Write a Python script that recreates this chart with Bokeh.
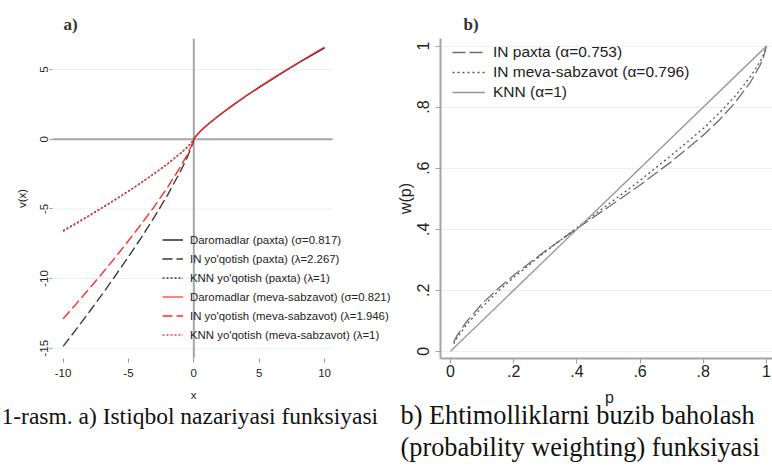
from bokeh.plotting import figure
from bokeh.models import Span, FixedTicker, Range1d, Label
from bokeh.layouts import column, row
from bokeh.embed import file_html
from bokeh.resources import INLINE

# ---------------- panel a) data (read from the picture) ----------------
x_gain = [0, 0.1, 0.5, 1, 2, 3, 4, 5, 6, 7, 8, 9, 10]
gain_paxta = [0, 0.15, 0.57, 1.0, 1.76, 2.45, 3.10, 3.72, 4.32, 4.90, 5.47, 6.02, 6.56]
gain_meva = [0, 0.15, 0.57, 1.0, 1.77, 2.46, 3.12, 3.75, 4.35, 4.94, 5.51, 6.07, 6.62]

x_loss = [-10, -9, -8, -7, -6, -5, -4, -3, -2, -1, -0.5, -0.1, 0]
in_loss_paxta = [-14.87, -13.65, -12.40, -11.12, -9.80, -8.44, -7.04, -5.56, -3.99, -2.27, -1.29, -0.35, 0]
in_loss_meva = [-12.89, -11.82, -10.73, -9.62, -8.47, -7.29, -6.07, -4.80, -3.44, -1.95, -1.10, -0.29, 0]
knn_loss_paxta = [-6.56, -6.02, -5.47, -4.90, -4.32, -3.72, -3.10, -2.45, -1.76, -1.0, -0.57, -0.15, 0]
knn_loss_meva = [-6.62, -6.07, -5.51, -4.94, -4.35, -3.75, -3.12, -2.46, -1.77, -1.0, -0.57, -0.15, 0]

a_labels = [
    "Daromadlar (paxta) (σ=0.817)",
    "IN yo'qotish (paxta) (λ=2.267)",
    "KNN yo'qotish (paxta) (λ=1)",
    "Daromadlar (meva-sabzavot) (σ=0.821)",
    "IN yo'qotish (meva-sabzavot) (λ=1.946)",
    "KNN yo'qotish (meva-sabzavot) (λ=1)",
]
a_xticks = [-10, -5, 0, 5, 10]
a_yticks = [-15, -10, -5, 0, 5]
a_xlabel = "x"
a_ylabel = "v(x)"
a_region_x = (-10.81, 10.61)   # extent of the plot region (grid / zero line)

# ---------------- panel b) data (read from the picture) ----------------
p_vals = [0.01, 0.02, 0.05, 0.1, 0.15, 0.2, 0.3, 0.4, 0.5, 0.6, 0.7, 0.8, 0.85, 0.9, 0.95, 0.98, 0.99, 1.0]
w_in_paxta = [0.030, 0.050, 0.096, 0.156, 0.205, 0.249, 0.329, 0.402, 0.473, 0.545, 0.622, 0.708, 0.757, 0.814, 0.883, 0.938, 0.962, 1.0]
w_in_meva = [0.025, 0.043, 0.086, 0.145, 0.196, 0.242, 0.326, 0.405, 0.482, 0.560, 0.643, 0.730, 0.780, 0.835, 0.901, 0.950, 0.971, 1.0]
p_knn = [0, 1]
w_knn = [0, 1]

b_labels = ["IN paxta (α=0.753)", "IN meva-sabzavot (α=0.796)", "KNN (α=1)"]
b_ticks = [0, 0.2, 0.4, 0.6, 0.8, 1]
b_tick_labels = ["0", ".2", ".4", ".6", ".8", "1"]
b_xlabel = "p"
b_ylabel = "w(p)"

captions = [
    "1-rasm. a) Istiqbol nazariyasi funksiyasi",
    "b) Ehtimolliklarni buzib baholash",
    "(probability weighting) funksiyasi",
]

SANS = "Liberation Sans"
SERIF = "Liberation Serif"
TXT = "#222222"
GRID = "#e8f0f2"
H = 387  # height of the two chart panels; the strip below holds axis titles and captions

# ======================= figure a =======================
fa = figure(width=392, height=H, x_range=Range1d(-10.81, 15.20), y_range=Range1d(-15.74, 7.23),
            output_backend="svg", toolbar_location=None,
            min_border_left=52, min_border_right=0, min_border_top=34, min_border_bottom=H - 358)
fa.outline_line_color = None
fa.grid.visible = False

fa.title.text = "a)"
fa.title.text_font = SERIF
fa.title.text_font_size = "17px"
fa.title.text_font_style = "bold"
fa.title.text_color = "#333333"
fa.title.offset = 11
fa.title.standoff = 9

# horizontal grid lines and zero reference line, limited to the plot region
n = len(a_yticks)
fa.segment(x0=[a_region_x[0]] * n, y0=a_yticks, x1=[a_region_x[1]] * n, y1=a_yticks,
           line_color=GRID, line_width=1, level="underlay")
fa.segment(x0=[a_region_x[0]], y0=[0], x1=[a_region_x[1]], y1=[0],
           line_color="#a6a6a6", line_width=2, level="underlay")
fa.add_layout(Span(location=0, dimension="height", line_color="#a6a6a6", line_width=2, level="underlay"))

fa.line(x_gain, gain_paxta, line_color="#1a1a1a", line_width=1.4, legend_label=a_labels[0])
fa.line(x_loss, in_loss_paxta, line_color="#3a3a3a", line_width=1.4, line_dash="10 4", legend_label=a_labels[1])
fa.line(x_loss, knn_loss_paxta, line_color="#3a3a3a", line_width=1.4, line_dash="2 2", legend_label=a_labels[2])
fa.line(x_gain, gain_meva, line_color="#ff2a2a", line_width=1.2, legend_label=a_labels[3])
fa.line(x_loss, in_loss_meva, line_color="#ff2a2a", line_width=1.4, line_dash="10 4", legend_label=a_labels[4])
fa.line(x_loss, knn_loss_meva, line_color="#ff3a3a", line_width=1.3, line_dash="2 2", legend_label=a_labels[5])

lg = fa.legend[0]
lg.location = (110, 15)
lg.background_fill_alpha = 0
lg.border_line_alpha = 0
lg.padding = 0
lg.margin = 0
lg.spacing = 2
lg.glyph_height = 17
lg.label_height = 17
lg.glyph_width = 21
lg.label_standoff = 7
lg.label_text_font = SANS
lg.label_text_font_size = "11.4px"
lg.label_text_color = TXT

for ax, ticks in ((fa.xaxis[0], a_xticks), (fa.yaxis[0], a_yticks)):
    ax.ticker = FixedTicker(ticks=ticks)
    ax.major_label_overrides = {t: str(t) for t in ticks}
    ax.axis_line_color = None
    ax.major_tick_line_color = "#9a9a9a"
    ax.major_tick_in = 0
    ax.minor_tick_line_color = None
    ax.major_label_text_font = SANS
    ax.major_label_text_font_size = "11.5px"
    ax.major_label_text_color = TXT
    ax.axis_label_text_font = SANS
    ax.axis_label_text_font_size = "11.5px"
    ax.axis_label_text_font_style = "normal"
    ax.axis_label_text_color = TXT

fa.xaxis[0].major_tick_out = 4
fa.xaxis[0].major_label_standoff = 6
fa.yaxis[0].axis_label = a_ylabel
fa.yaxis[0].major_tick_out = 3
fa.yaxis[0].major_label_standoff = 1
fa.yaxis[0].axis_label_standoff = 10
fa.yaxis[0].major_label_orientation = "vertical"

# ======================= figure b =======================
fb = figure(width=380, height=H, x_range=Range1d(-0.0316, 1.019), y_range=Range1d(-0.0235, 1.0248),
            output_backend="svg", toolbar_location=None,
            min_border_left=48, min_border_right=0, min_border_top=38, min_border_bottom=H - 363)
fb.outline_line_color = None
fb.xgrid.visible = False
fb.ygrid.ticker = FixedTicker(ticks=b_ticks)
fb.ygrid.grid_line_color = GRID
fb.ygrid.grid_line_width = 1

fb.title.text = "b)"
fb.title.text_font = SERIF
fb.title.text_font_size = "17px"
fb.title.text_font_style = "bold"
fb.title.text_color = "#333333"
fb.title.offset = 23
fb.title.standoff = 10

fb.line(p_vals, w_in_paxta, line_color="#6e6e6e", line_width=1.3, line_dash="13 4", legend_label=b_labels[0])
fb.line(p_vals, w_in_meva, line_color="#555555", line_width=1.3, line_dash="2 3", legend_label=b_labels[1])
fb.line(p_knn, w_knn, line_color="#959595", line_width=1.3, legend_label=b_labels[2])

lb = fb.legend[0]
lb.location = (12, 256)
lb.background_fill_alpha = 0
lb.border_line_alpha = 0
lb.padding = 0
lb.margin = 0
lb.spacing = 0
lb.glyph_height = 20
lb.label_height = 20
lb.glyph_width = 33
lb.label_standoff = 8
lb.label_text_font = SANS
lb.label_text_font_size = "15.5px"
lb.label_text_color = TXT

for ax in (fb.xaxis[0], fb.yaxis[0]):
    ax.ticker = FixedTicker(ticks=b_ticks)
    ax.major_label_overrides = dict(zip(b_ticks, b_tick_labels))
    ax.axis_line_color = "#a3a3a3"
    ax.axis_line_width = 2
    ax.major_tick_line_color = "#a3a3a3"
    ax.major_tick_line_width = 1.2
    ax.major_tick_in = 0
    ax.major_tick_out = 5
    ax.minor_tick_line_color = None
    ax.major_label_text_font = SANS
    ax.major_label_text_font_size = "16px"
    ax.major_label_text_color = TXT
    ax.axis_label_text_font = SANS
    ax.axis_label_text_font_size = "16px"
    ax.axis_label_text_font_style = "normal"
    ax.axis_label_text_color = TXT

fb.xaxis[0].major_label_standoff = 1
fb.yaxis[0].axis_label = b_ylabel
fb.yaxis[0].major_label_standoff = 6
fb.yaxis[0].axis_label_standoff = 1
fb.yaxis[0].major_label_orientation = "vertical"

# ============ strip below both panels: x-axis titles and captions (page coordinates) ============
fs = figure(width=772, height=468 - H, x_range=Range1d(0, 772), y_range=Range1d(468, H),
            output_backend="svg", toolbar_location=None, min_border=0,
            x_axis_type=None, y_axis_type=None)
fs.outline_line_color = None
fs.grid.visible = False
fs.add_layout(Label(x=193, y=394, text=a_xlabel, text_align="center", text_baseline="middle",
                    text_font=SANS, text_font_size="11.5px", text_color=TXT))
fs.add_layout(Label(x=609, y=397, text=b_xlabel, text_align="center", text_baseline="middle",
                    text_font=SANS, text_font_size="16px", text_color=TXT))
fs.add_layout(Label(x=1, y=415, text=captions[0], text_align="left", text_baseline="middle",
                    text_font=SERIF, text_font_size="23.5px", text_color="#111111"))
fs.add_layout(Label(x=400, y=415, text=captions[1], text_align="left", text_baseline="middle",
                    text_font=SERIF, text_font_size="26.3px", text_color="#111111"))
fs.add_layout(Label(x=400, y=447, text=captions[2], text_align="left", text_baseline="middle",
                    text_font=SERIF, text_font_size="26.3px", text_color="#111111"))

layout = column(row(fa, fb, spacing=0), fs, spacing=0)
open("out.html", "w").write(file_html(layout, INLINE))
